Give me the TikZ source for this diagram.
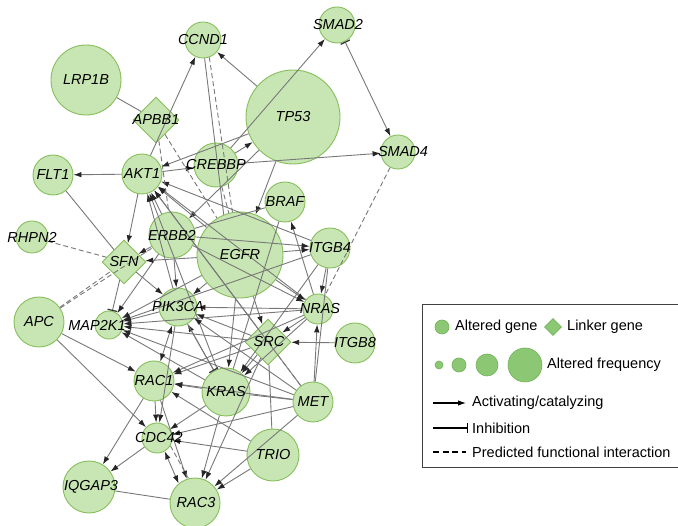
\documentclass[tikz,border=0pt]{standalone}
\usepackage{fontspec}
\setmainfont{Liberation Sans}
\usetikzlibrary{arrows.meta,shapes.geometric}

\definecolor{genefill}{RGB}{200,230,180}
\definecolor{genedraw}{RGB}{135,190,92}
\definecolor{keyfill}{RGB}{140,200,115}
\definecolor{keydraw}{RGB}{112,178,88}
\definecolor{edgegray}{RGB}{120,120,120}

\tikzset{
  gene/.style={circle, draw=genedraw, fill=genefill, line width=0.9pt, inner sep=0pt, minimum size=#1},
  linker/.style={diamond, draw=genedraw, fill=genefill, line width=0.9pt, inner sep=0pt, minimum size=#1},
  keygene/.style={circle, draw=keydraw, fill=keyfill, line width=0.6pt, inner sep=0pt, minimum size=#1},
  genelabel/.style={font=\fontsize{14.5}{16}\selectfont\itshape, inner sep=0pt},
  keylabel/.style={font=\fontsize{14.5}{16}\selectfont, inner sep=0pt, anchor=west},
  act/.style={draw=edgegray, line width=0.9pt, -{Latex[length=8pt,width=5.5pt,color=black!85]}},
  both/.style={draw=edgegray, line width=0.9pt, {Latex[length=8pt,width=5.5pt,color=black!85]}-{Latex[length=8pt,width=5.5pt,color=black!85]}},
  inh/.style={draw=edgegray, line width=0.9pt, -{Bar[width=10pt,line width=1.2pt,color=black!80]}},
  link/.style={draw=edgegray, line width=0.9pt},
  pfi/.style={draw=edgegray, line width=0.9pt, dash pattern=on 5pt off 3pt},
}

\begin{document}
\begin{tikzpicture}[x=1pt,y=-1pt]

\useasboundingbox (0,0) rectangle (678,526);
\fill[white] (0,0) rectangle (678,526);

% Altered genes
\foreach \n/\x/\y/\d in {CCND1/203/40/36pt, SMAD2/337/25/36pt, LRP1B/86/80/70pt,
    TP53/293/117/94pt, CREBBP/216/165/44pt, AKT1/142/174/40pt, FLT1/53/175/40pt,
    SMAD4/398/152/34pt, BRAF/285/202/40pt, RHPN2/32/237/32pt, ERBB2/172/235/46pt,
    EGFR/240/255/86pt, ITGB4/330/248/40pt, APC/39/322/50pt, MAP2K1/109/325/28pt,
    PIK3CA/178/307/38pt, NRAS/318/309/30pt, ITGB8/355/343/40pt, RAC1/154/381/40pt,
    KRAS/226/392/48pt, MET/313/402/40pt, CDC42/157/438/30pt, TRIO/273/455/52pt,
    IQGAP3/89/487/52pt, RAC3/195/503/50pt}
  \node[gene=\d] (\n) at (\x,\y) {};

% Linker genes
\node[linker=46pt] (APBB1) at (156,120) {};
\node[linker=44pt] (SFN) at (124,262) {};
\node[linker=46pt] (SRC) at (268,342) {};

% Activating / catalyzing
\foreach \a/\b in {TP53/CCND1, AKT1/CCND1, CREBBP/SMAD2, CREBBP/SMAD4, AKT1/FLT1,
    AKT1/CREBBP, TP53/AKT1, CREBBP/TP53, TP53/EGFR, TP53/ERBB2, AKT1/SFN,
    APC/RAC1, APC/CDC42,
    PIK3CA/MAP2K1, EGFR/MAP2K1, NRAS/MAP2K1, SRC/MAP2K1, KRAS/MAP2K1,
    ERBB2/MAP2K1, ITGB4/MAP2K1, MET/MAP2K1,
    ERBB2/AKT1, EGFR/AKT1, PIK3CA/AKT1, KRAS/AKT1, NRAS/AKT1, SRC/AKT1,
    ITGB4/AKT1, MET/AKT1,
    EGFR/SFN, ERBB2/SFN,
    ERBB2/PIK3CA, SFN/PIK3CA, EGFR/PIK3CA, NRAS/PIK3CA, KRAS/PIK3CA,
    SRC/PIK3CA, MET/PIK3CA,
    EGFR/ITGB4, ERBB2/ITGB4, NRAS/BRAF,
    EGFR/NRAS, ITGB4/NRAS, ERBB2/NRAS, MET/NRAS,
    NRAS/SRC, ITGB8/SRC, EGFR/SRC,
    EGFR/KRAS, SRC/KRAS, NRAS/KRAS, ITGB4/KRAS,
    SRC/RAC1, KRAS/RAC1, MET/RAC1, TRIO/RAC1, NRAS/RAC1,
    RAC1/CDC42, PIK3CA/CDC42, KRAS/CDC42, MET/CDC42, TRIO/CDC42,
    KRAS/RAC3, MET/RAC3, RAC1/RAC3, SRC/RAC3, TRIO/RAC3,
    CDC42/IQGAP3, RAC1/IQGAP3}
  \draw[act] (\a) -- (\b);

\draw[both] (PIK3CA) -- (RAC1);
\draw[both] (CDC42.-60) -- (RAC3.130);

% Inhibition
\draw[inh] (SFN) -- (MAP2K1);
\draw[inh] (PIK3CA) -- (KRAS);
\draw[draw=edgegray, line width=0.9pt, {Bar[width=10pt,line width=1.2pt,color=black!80]}-{Latex[length=8pt,width=5.5pt,color=black!85]}] (SMAD2) -- (SMAD4);

% Plain links
\foreach \a/\b in {LRP1B/APBB1, FLT1/SFN, IQGAP3/RAC3, MET/KRAS, TRIO/SRC,
    BRAF/KRAS, BRAF/ERBB2, ITGB4/MET}
  \draw[link] (\a) -- (\b);
\draw[link] (CCND1.-85) -- (EGFR.112);

% Predicted functional interactions
\foreach \a/\b in {APBB1/ERBB2, APBB1/EGFR, RHPN2/SFN, APC/SFN, APC/ERBB2,
    SMAD4/NRAS, SRC/MET, CREBBP/EGFR}
  \draw[pfi] (\a) -- (\b);
\draw[pfi] (CCND1.-70) -- (EGFR.100);
\draw[pfi] (CDC42.-30) -- (RAC3.105);

% Gene labels on top
\foreach \n/\dx in {CCND1/0, SMAD2/1, LRP1B/0, TP53/0, CREBBP/0, AKT1/0, FLT1/0,
    SMAD4/5, BRAF/0, RHPN2/0, ERBB2/0, EGFR/0, ITGB4/0, APC/0, MAP2K1/-12,
    PIK3CA/0, NRAS/2, ITGB8/0, RAC1/0, KRAS/0, MET/0, CDC42/2, TRIO/0,
    IQGAP3/2, RAC3/1, APBB1/0, SFN/0, SRC/1}
  \node[genelabel] at ([xshift=\dx pt]\n) {\n};

% Legend
\draw[black!75, line width=1pt] (422,305) rectangle (690,468);
\node[keygene=14pt] (keyA) at (442,327) {};
\node[keylabel] (keyAt) at (455,327) {Altered gene};
\node[diamond, draw=keydraw, fill=keyfill, line width=0.6pt, inner sep=0pt, minimum size=17pt] (keyL) at (553,327) {};
\node[keylabel] (keyLt) at (567,327) {Linker gene};
\node[keygene=8pt] (keyF1) at (439,365) {};
\node[keygene=14pt] (keyF2) at (459,365) {};
\node[keygene=22pt] (keyF3) at (487,365) {};
\node[keygene=34pt] (keyF4) at (525,365) {};
\node[keylabel] (keyFt) at (547,365) {Altered frequency};

\coordinate (actS) at (433,403);
\coordinate (actE) at (466,403);
\draw[line width=1.1pt, -{Latex[length=8pt,width=5.5pt]}] (actS) -- (actE);
\node[keylabel] (actT) at (472,403) {Activating/catalyzing};

\coordinate (inhS) at (433,428);
\coordinate (inhE) at (468,428);
\draw[line width=1.3pt, -{Bar[width=10pt]}] (inhS) -- (inhE);
\node[keylabel] (inhT) at (472,428) {Inhibition};

\coordinate (pfiS) at (433,452);
\coordinate (pfiE) at (466,452);
\draw[line width=1.3pt, dash pattern=on 6pt off 3.5pt] (pfiS) -- (pfiE);
\node[keylabel] (pfiT) at (472,452) {Predicted functional interaction};

\end{tikzpicture}
\end{document}
